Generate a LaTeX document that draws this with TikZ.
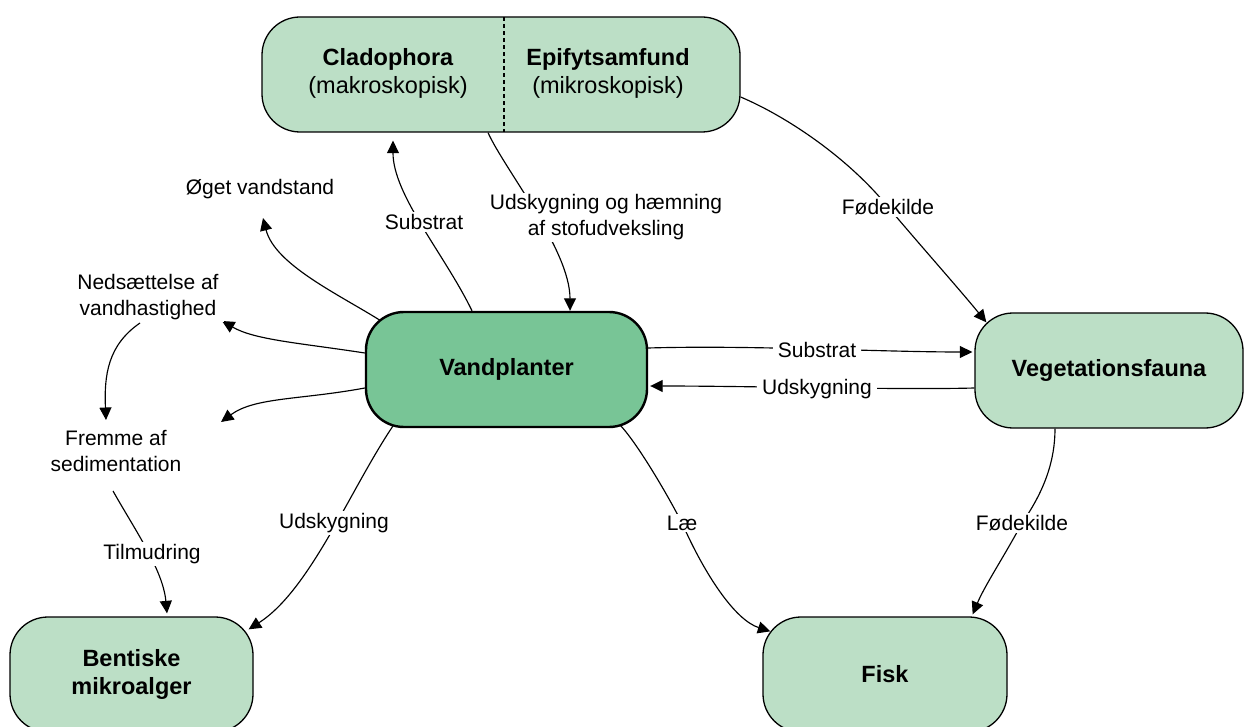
\documentclass[tikz,border=0pt]{standalone}
\usepackage{fontspec}
\setmainfont{Liberation Sans}
\usetikzlibrary{arrows.meta,calc}
\definecolor{lightg}{RGB}{188,223,198}
\definecolor{darkg}{RGB}{120,197,150}
\pgfdeclarelayer{bg}
\pgfsetlayers{bg,main}
\tikzset{
  box/.style={draw=black, line width=1.3pt, fill=lightg, rounded corners=38pt,
    minimum height=115pt, inner sep=0pt, align=center,
    font=\bfseries\fontsize{23.5}{28.5}\selectfont},
  mainbox/.style={box, fill=darkg, line width=2.4pt},
  boxtext/.style={inner sep=0pt, align=center, font=\bfseries\fontsize{23.5}{28.5}\selectfont},
  lbl/.style={fill=white, inner xsep=5pt, inner ysep=2pt, align=center,
    font=\fontsize{21}{26}\selectfont},
  conn/.style={line width=1.15pt, -{Triangle[length=12.5pt,width=12pt]}},
  divider/.style={line width=1.1pt, dash pattern=on 4pt off 3pt},
}
\begin{document}
\begin{tikzpicture}[x=1pt,y=-1pt]
\useasboundingbox (0,0) rectangle (1245,727);
\clip (0,0) rectangle (1245,727);

% boxes
\node[box, minimum width=478pt] (top) at (501,74.5) {};
\draw[divider] ($(top.north)+(3,0.7)$) -- ($(top.south)+(3,-0.7)$);
\node[boxtext] (clad) at (388,73.5) {Cladophora\\{\mdseries (makroskopisk)}};
\node[boxtext] (epi) at (608,73.5) {Epifytsamfund\\{\mdseries (mikroskopisk)}};

\node[mainbox, minimum width=281pt] (vp) at (506.5,369.5) {Vandplanter};
\node[box, minimum width=268pt] (vf) at (1109,370.5) {Vegetationsfauna};
\node[box, minimum width=243pt] (bm) at (131.5,674.5) {Bentiske\\mikroalger};
\node[box, minimum width=244pt] (fisk) at (885,674.5) {Fisk};

% labels
\node[lbl] (lOget) at (260,189) {Øget vandstand};
\node[lbl] (lNed) at (148,297) {Nedsættelse af\\vandhastighed};
\node[lbl] (lFrem) at (116,451.5) {Fremme af\\sedimentation};
\node[lbl] (lSub1) at (424,222) {Substrat};
\node[lbl] (lUdh) at (606,217.5) {Udskygning og hæmning\\af stofudveksling};
\node[lbl] (lFod1) at (888,207) {Fødekilde};
\node[lbl] (lSub2) at (817,350) {Substrat};
\node[lbl] (lUd2) at (817,389) {Udskygning};
\node[lbl] (lUd1) at (334,523) {Udskygning};
\node[lbl] (lTil) at (152,554) {Tilmudring};
\node[lbl] (lLae) at (682,523) {Læ};
\node[lbl] (lFod2) at (1022,523) {Fødekilde};

\begin{pgfonlayer}{bg}
\draw[conn] ($(vp.north)+(-34.5,0)$) .. controls (445,255) and (393,195) .. ($(top.south)+(-108,8)$);
\draw[conn] ($(vp.north west)+(16,10)$) .. controls (340,295) and (275,265) .. ($(lOget.center)+(3,29)$);
\draw[conn] ($(vp.west)+(0,-16.5)$) .. controls (300,343) and (255,340) .. ($(lNed.center)+(74,24)$);
\draw[conn] ($(vp.west)+(0,18.5)$) .. controls (300,400) and (255,397) .. ($(lFrem.center)+(105,-29.5)$);
\draw[conn] ($(lNed.center)+(-8,26)$) .. controls (108,345) and (104,375) .. ($(lFrem.center)+(-10,-31.5)$);
\draw[conn] ($(lFrem.center)+(-3,39.5)$) .. controls (135,530) and (163,570) .. ($(bm.north)+(35.5,-3)$);
\draw[conn] ($(vp.south west)+(28,-2)$) .. controls (350,490) and (310,590) .. ($(bm.north east)+(-5,13)$);
\draw[conn] ($(top.south)+(-13,0)$) .. controls (505,170) and (570,250) .. ($(vp.north)+(63.5,0)$);
\draw[conn] ($(top.east)+(0,22.5)$) .. controls (790,118) and (850,160) .. (lFod1.center) .. controls (920,245) and (960,290) .. ($(vf.north west)+(12,10)$);
\draw[conn] ($(vp.east)+(0,-21.5)$) .. controls (750,345) and (880,352) .. ($(vf.west)+(-2,-18.5)$);
\draw[conn] ($(vf.west)+(0,17.5)$) .. controls (900,390) and (750,386) .. ($(vp.east)+(2,16.5)$);
\draw[conn] ($(vp.south east)+(-29,-4)$) .. controls (635,440) and (665,490) .. (lLae.center) .. controls (705,575) and (735,620) .. ($(fisk.north west)+(8,15)$);
\draw[conn] ($(vf.south)+(-54,0)$) .. controls (1055,460) and (1045,490) .. (lFod2.center) .. controls (1005,555) and (985,585) .. ($(fisk.north east)+(-35,-2)$);
\end{pgfonlayer}
\end{tikzpicture}
\end{document}
